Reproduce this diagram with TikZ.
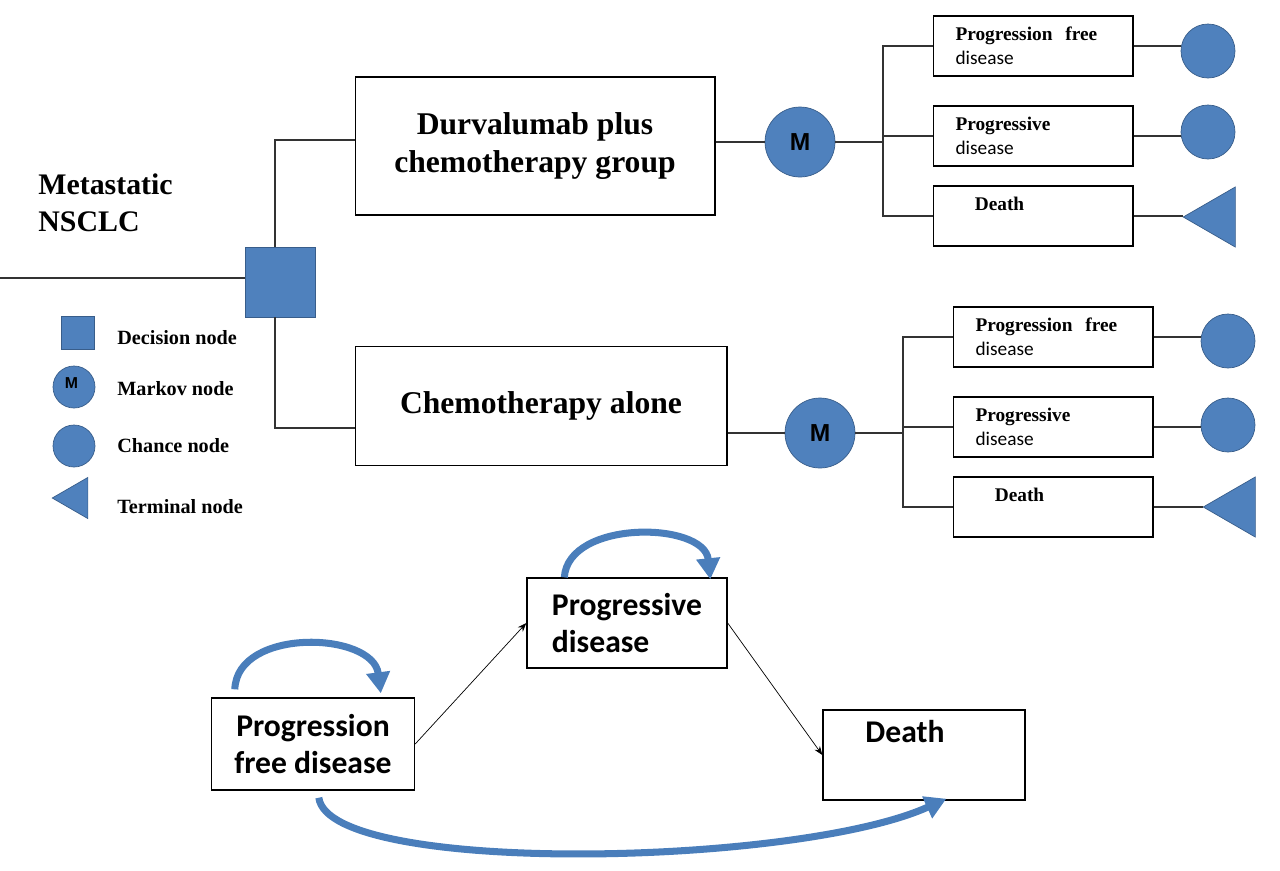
\documentclass[tikz,border=0pt]{standalone}
\usepackage{fontspec}
\setmainfont{Liberation Serif}
\newfontfamily\calfont{Carlito}
\newfontfamily\arialfont{Liberation Sans}
\usetikzlibrary{shapes.geometric,arrows.meta}
\definecolor{nodeblue}{HTML}{4F81BD}
\definecolor{nodeedge}{HTML}{385D8A}
\definecolor{arrowblue}{HTML}{4A7EBB}

\begin{document}
\begin{tikzpicture}[x=0.02cm, y=-0.02cm,
  tline/.style={semithick, black!80},
  treebox/.style={draw, semithick, align=center, font=\bfseries\fontsize{18}{21.5}\selectfont},
  outbox/.style={draw, semithick, minimum width=4cm, minimum height=1.2cm, inner sep=0pt, text width=3.1cm, align=left, font=\fontsize{11}{13.5}\selectfont},
  decnode/.style={rectangle, fill=nodeblue, draw=nodeedge, thin, inner sep=0pt},
  markov/.style={circle, fill=nodeblue, draw=nodeedge, thin, inner sep=0pt, minimum size=1.4cm, font=\arialfont\bfseries\fontsize{14}{14}\selectfont},
  chance/.style={circle, fill=nodeblue, draw=nodeedge, thin, inner sep=0pt, minimum size=1.08cm},
  terminal/.style={regular polygon, regular polygon sides=3, shape border rotate=90, fill=nodeblue, draw=nodeedge, thin, inner sep=0pt, minimum size=1.39cm},
  legtext/.style={anchor=west, inner sep=0pt, font=\bfseries\fontsize{11.5}{12}\selectfont},
  statebox/.style={draw, thick, align=center, font=\calfont\bfseries\fontsize{18}{20.5}\selectfont},
  loop arrow/.style={arrowblue, line width=4pt, -{Triangle[length=12pt, width=13pt]}}]
\useasboundingbox (0,0) rectangle (1280,870);

% decision tree
\node[anchor=west, align=left, inner sep=0pt, font=\bfseries\fontsize{17}{21}\selectfont] (title) at (38,203) {Metastatic\\NSCLC};
\node[decnode, minimum size=1.4cm] (dec) at (280,282) {};
\node[treebox, minimum width=7.2cm, minimum height=2.76cm] (dur) at (535,146) {Durvalumab plus\\chemotherapy group};
\node[treebox, minimum width=7.44cm, minimum height=2.38cm] (chemo) at (541,406) {Chemotherapy alone};
\coordinate (in) at (0,278);
\coordinate (j1) at (275,140);
\coordinate (j2) at (275,428);
\draw[tline] (in) -- (in -| dec.west);
\draw[tline] (j1 |- dec.north) -- (j1) -- (j1 -| dur.west);
\draw[tline] (j2 |- dec.south) -- (j2) -- (j2 -| chemo.west);

% durvalumab arm
\node[markov] (m1) at (800,142) {M};
\node[outbox] (o11) at (1033,46) {\textbf{Progression \ free}\\{\calfont disease}};
\node[outbox] (o12) at (1033,136) {\textbf{Progressive}\\{\calfont disease}};
\node[outbox] (o13) at (1033,216) {\textbf{\hspace*{1em}Death}\\~};
\node[chance] (c11) at (1208,51) {};
\node[chance] (c12) at (1208,132) {};
\node[terminal] (c13) at (1218,217) {};
\coordinate (b1) at (883,142);
\draw[tline] (dur.east |- m1) -- (m1);
\draw[tline] (m1) -- (b1);
\foreach \o in {o11,o12,o13} \draw[tline] (\o.west) -| (b1);
\foreach \o/\c in {o11/c11,o12/c12,o13/c13} \draw[tline] (\o.east) -- (\o.east -| \c.west);

% chemotherapy arm
\node[markov] (m2) at (820,433) {M};
\node[outbox] (o21) at (1053,337) {\textbf{Progression \ free}\\{\calfont disease}};
\node[outbox] (o22) at (1053,427) {\textbf{Progressive}\\{\calfont disease}};
\node[outbox] (o23) at (1053,507) {\textbf{\hspace*{1em}Death}\\~};
\node[chance] (c21) at (1228,341) {};
\node[chance] (c22) at (1228,425) {};
\node[terminal] (c23) at (1238,507) {};
\coordinate (b2) at (903,433);
\draw[tline] (chemo.east |- m2) -- (m2);
\draw[tline] (m2) -- (b2);
\foreach \o in {o21,o22,o23} \draw[tline] (\o.west) -| (b2);
\foreach \o/\c in {o21/c21,o22/c22,o23/c23} \draw[tline] (\o.east) -- (\o.east -| \c.west);

% legend
\node[decnode, minimum size=0.66cm] (lgdec) at (78,333) {};
\node[markov, minimum size=0.84cm, font=\arialfont\bfseries\fontsize{9}{9}\selectfont] (lgmarkov) at (74,387) {\raisebox{5pt}{M\hspace{3pt}}};
\node[chance, minimum size=0.84cm] (lgchance) at (74,446) {};
\node[terminal, minimum size=0.95cm] (lgterm) at (76,498) {};
\node[legtext] (lgdectxt) at (117,338) {Decision node};
\node[legtext] (lgmarkovtxt) at (117,389) {Markov node};
\node[legtext] (lgchancetxt) at (117,446) {Chance node};
\node[legtext] (lgtermtxt) at (117,507) {Terminal node};

% markov model
\node[statebox, minimum width=4.06cm, minimum height=1.84cm] (pfd) at (313,744) {Progression\\free disease};
\node[statebox, minimum width=4cm, minimum height=1.8cm, align=left] (pd) at (627,623) {Progressive\\disease};
\node[statebox, minimum width=4.04cm, minimum height=1.8cm] (death) at (924,755) {Death\hspace*{1.2em}\\[6pt]~};
\draw[-{Stealth[length=5pt]}] (pfd.east) -- (pd.west);
\draw[-{Stealth[length=5pt]}] (pd.east) -- (death.west);
\draw[loop arrow] ([shift={(24,-8)}]pfd.north west) .. controls +(2,-62) and +(-8,-62) .. ([shift={(170,-4)}]pfd.north west);
\draw[loop arrow] ([shift={(38,0)}]pd.north west) .. controls +(4,-58) and +(-6,-58) .. ([shift={(184,2)}]pd.north west);
\draw[loop arrow] ([shift={(108,7)}]pfd.south west) .. controls +(10,78) and +(-150,68) .. ([shift={(124,-2)}]death.south west);
\end{tikzpicture}
\end{document}
